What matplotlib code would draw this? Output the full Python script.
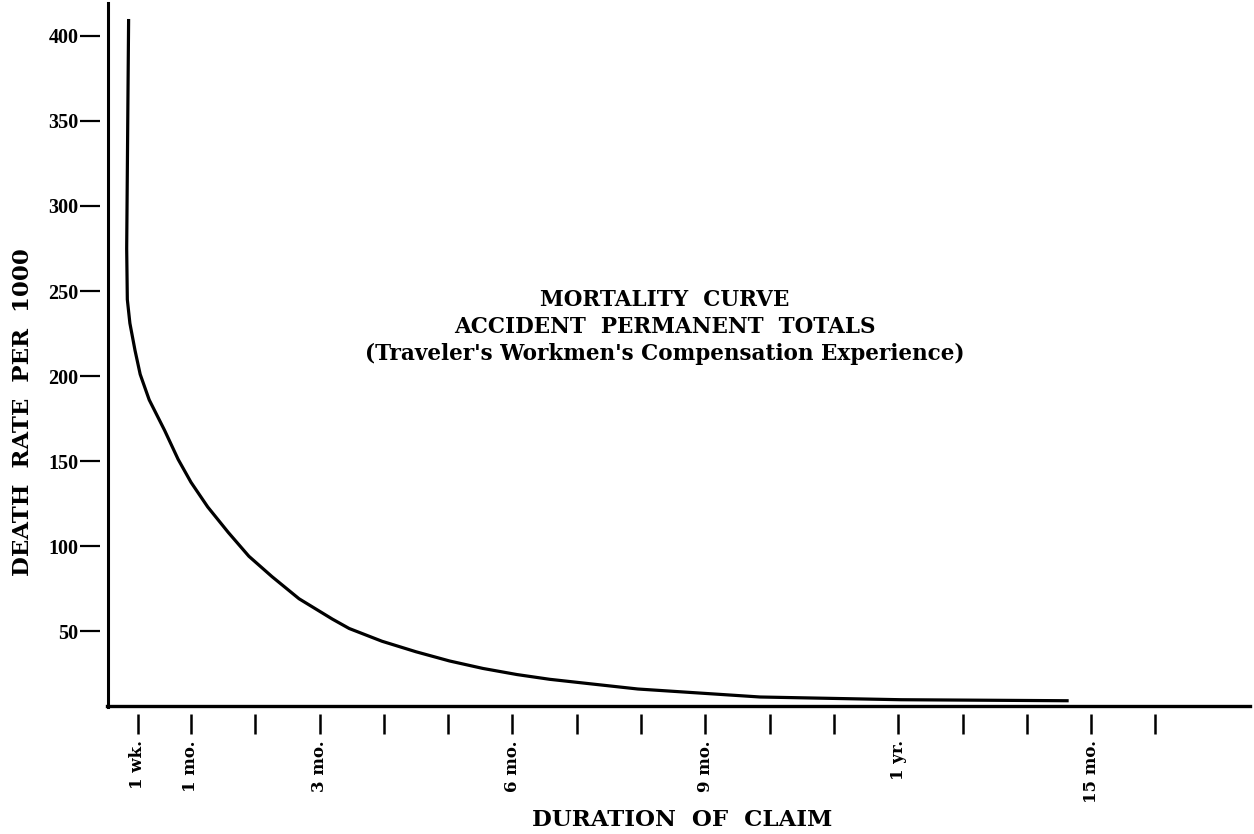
import matplotlib
matplotlib.use("Agg")
import matplotlib.pyplot as plt

# ---- data (duration in months, death rate per 1000) ----
duration_months = [0.03, 0.00, 0.01, 0.05, 0.13, 0.21, 0.35, 0.59, 0.80, 1.00,
                   1.26, 1.58, 1.90, 2.26, 2.68, 3.20, 3.46, 3.97, 4.50, 5.02,
                   5.54, 6.07, 6.58, 7.25, 7.95, 9.85, 12.04, 14.65]
death_rate = [410, 275, 245, 231, 215, 201, 186, 168, 151, 137.5,
              123, 108, 94, 82, 69, 57, 51.5, 44, 37.8, 32.4,
              28.0, 24.4, 21.6, 18.8, 15.9, 11.2, 9.6, 9.0]

y_ticks = [50, 100, 150, 200, 250, 300, 350, 400]
x_ticks = [0.17, 1, 2, 3, 4, 5, 6, 7, 8, 9, 10, 11, 12, 13, 14, 15, 16]
x_tick_labels = ["1 wk.", "1 mo.", "", "3 mo.", "", "", "6 mo.", "", "",
                 "9 mo.", "", "", "1 yr.", "", "", "15 mo.", ""]

title_lines = ["MORTALITY  CURVE",
               "ACCIDENT  PERMANENT  TOTALS",
               "(Traveler's Workmen's Compensation Experience)"]
x_label = "DURATION  OF  CLAIM"
y_label = "DEATH  RATE  PER  1000"

SERIF = ["DejaVu Serif"]
TICKFONT = ["Liberation Serif", "DejaVu Serif"]

fig = plt.figure(figsize=(12.54, 8.34), dpi=100)
W, H = 1254, 834
ax_l, ax_r, ax_b, ax_t = 100, 1250, 714, 3
ax = fig.add_axes([ax_l / W, 1 - ax_b / H, (ax_r - ax_l) / W, (ax_b - ax_t) / H])

ax.set_xlim(-0.415, 17.47)
ax.set_ylim(1.2, 419.4)

for s in ax.spines.values():
    s.set_visible(False)

# axis lines (drawn slightly inside the tick anchor to leave a gap)
ax.axhline(5.9, xmin=(107 - ax_l) / (ax_r - ax_l), xmax=1.0, color="black",
           lw=2.4, clip_on=False)
ax.axvline(-0.29, ymin=(714 - 707) / (ax_b - ax_t), ymax=1.0, color="black",
           lw=2.2, clip_on=False)

ax.plot(duration_months, death_rate, color="black", lw=2.3,
        solid_joinstyle="round", solid_capstyle="butt")

ax.set_yticks(y_ticks)
ax.set_yticklabels([str(v) for v in y_ticks])
ax.tick_params(axis="y", direction="out", length=14.5, width=1.6, pad=1,
               labelsize=14.5)
for lab in ax.get_yticklabels():
    lab.set_family(TICKFONT)
    lab.set_fontweight("bold")

ax.set_xticks(x_ticks)
ax.set_xticklabels(x_tick_labels, rotation=90, va="top", ha="center")
ax.tick_params(axis="x", direction="out", length=14.5, width=1.8, pad=4.3,
               labelsize=12)
for lab in ax.get_xticklabels():
    lab.set_family(SERIF)
    lab.set_fontweight("bold")

ax.set_xlabel(x_label, family=SERIF, fontweight="bold", fontsize=16.5)
ax.xaxis.set_label_coords((682 - ax_l) / (ax_r - ax_l), (ax_b - 820) / (ax_b - ax_t))
ax.xaxis.label.set_va("center")

ax.set_ylabel(y_label, family=SERIF, fontweight="bold", fontsize=16.5)
ax.yaxis.set_label_coords((23 - ax_l) / (ax_r - ax_l), (ax_b - 412) / (ax_b - ax_t))
ax.yaxis.label.set_va("center")

ax.text((665 - ax_l) / (ax_r - ax_l), (ax_b - 327) / (ax_b - ax_t),
        "\n".join(title_lines), transform=ax.transAxes, ha="center",
        va="center", multialignment="center", linespacing=1.3,
        family=SERIF, fontweight="bold", fontsize=15.5)

fig.savefig("out.png", dpi=100, facecolor="white")
